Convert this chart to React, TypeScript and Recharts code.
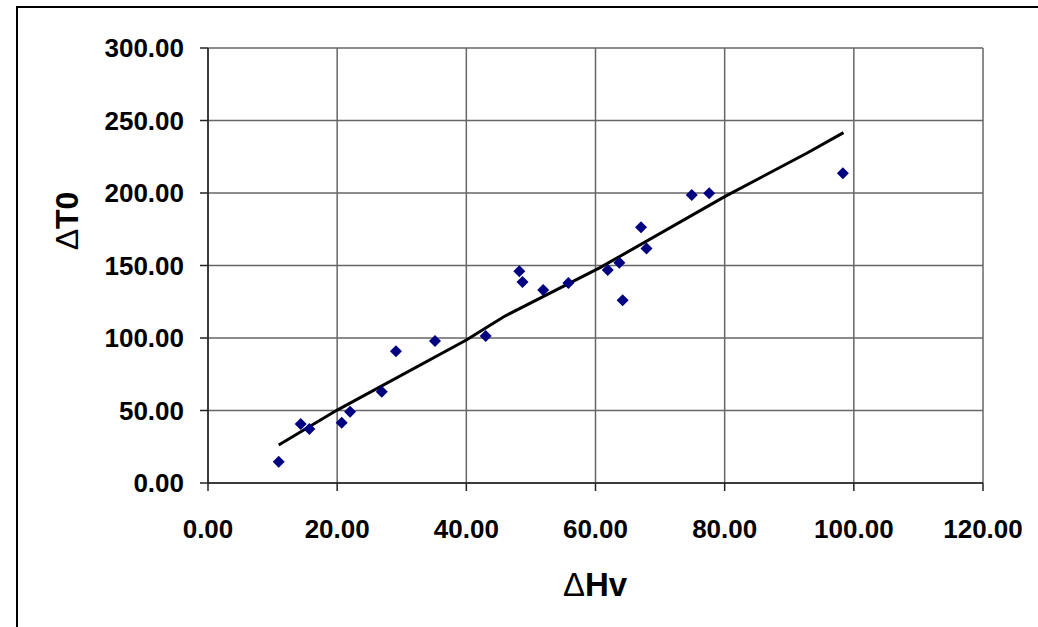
import { CartesianGrid, ComposedChart, Line, Scatter, XAxis, YAxis } from "recharts";

// measured points (ΔHv, ΔT0)
const hv = [
  10.95, 14.35, 15.7, 20.7, 22.0, 26.9, 29.1, 35.15, 43.0, 48.2, 48.7, 51.9, 55.8, 61.9, 63.7,
  64.2, 67.05, 67.9, 74.9, 77.6, 98.3
];
const t0 = [
  14.7, 40.7, 37.2, 41.6, 49.2, 63.0, 90.8, 97.9, 101.4, 146.0, 138.6, 133.1, 137.9, 146.9, 151.9,
  126.0, 176.3, 161.8, 198.6, 199.8, 213.6
];

// fitted line as drawn
const trendHv = [10.95, 20, 40, 45.8, 60.7, 80, 92.7, 98.4];
const trendT0 = [26.2, 50.3, 98.6, 114.7, 148.5, 197.5, 227.4, 241.6];

const xTicks = [0, 20, 40, 60, 80, 100, 120];
const yTicks = [0, 50, 100, 150, 200, 250, 300];

const points = hv.map((x, i) => ({ x, y: t0[i] }));
const trend = trendHv.map((x, i) => ({ x, y: trendT0[i] }));

const font = "'Liberation Sans', Arial, sans-serif";

function Diamond(props: any) {
  const { cx, cy } = props;
  const r = 6;
  return (
    <polygon
      points={`${cx},${cy - r} ${cx + r},${cy} ${cx},${cy + r} ${cx - r},${cy}`}
      fill="#000080"
    />
  );
}

function XTick(props: any) {
  const { x, y, payload } = props;
  return (
    <text x={x} y={y + 45} textAnchor="middle" fontFamily={font} fontWeight="bold" fontSize={26} fill="#000">
      {payload.value.toFixed(2)}
    </text>
  );
}

function YTick(props: any) {
  const { x, y, payload } = props;
  return (
    <text x={x - 14} y={y + 9} textAnchor="end" fontFamily={font} fontWeight="bold" fontSize={26} fill="#000">
      {payload.value.toFixed(2)}
    </text>
  );
}

export default function App() {
  return (
    <div style={{ position: "absolute", left: 0, top: 0, width: 1038, height: 627, background: "#fff" }}>
      <div
        style={{
          position: "absolute",
          left: 16,
          top: 6,
          width: 1040,
          height: 640,
          border: "2px solid #000",
          boxSizing: "border-box"
        }}
      />
      <div style={{ position: "absolute", left: 0, top: 0 }}>
        <ComposedChart width={1038} height={627} margin={{ top: 48, right: 55, bottom: 0, left: 0 }}>
          <CartesianGrid stroke="#666" strokeWidth={1.5} />
          <XAxis
            type="number"
            dataKey="x"
            domain={[0, 120]}
            ticks={xTicks}
            height={144}
            stroke="#222"
            strokeWidth={1.5}
            tickSize={8}
            tick={<XTick />}
            label={{
              content: () => (
                <text x={595} y={596} textAnchor="middle" fontFamily={font} fontSize={33} fill="#000">
                  <tspan fontWeight="normal">Δ</tspan>
                  <tspan fontWeight="bold">Hv</tspan>
                </text>
              )
            }}
          />
          <YAxis
            type="number"
            dataKey="y"
            domain={[0, 300]}
            ticks={yTicks}
            width={208}
            stroke="#222"
            strokeWidth={1.5}
            tickSize={8}
            tick={<YTick />}
            label={{
              content: () => (
                <text
                  x={78}
                  y={221}
                  transform="rotate(-90, 78, 221)"
                  textAnchor="middle"
                  fontFamily={font}
                  fontSize={32}
                  fill="#000"
                >
                  <tspan fontWeight="normal">Δ</tspan>
                  <tspan fontWeight="bold">T0</tspan>
                </text>
              )
            }}
          />
          <Line
            data={trend}
            dataKey="y"
            type="linear"
            stroke="#000"
            strokeWidth={3}
            dot={false}
            activeDot={false}
            isAnimationActive={false}
          />
          <Scatter data={points} dataKey="y" shape={<Diamond />} isAnimationActive={false} />
        </ComposedChart>
      </div>
    </div>
  );
}
